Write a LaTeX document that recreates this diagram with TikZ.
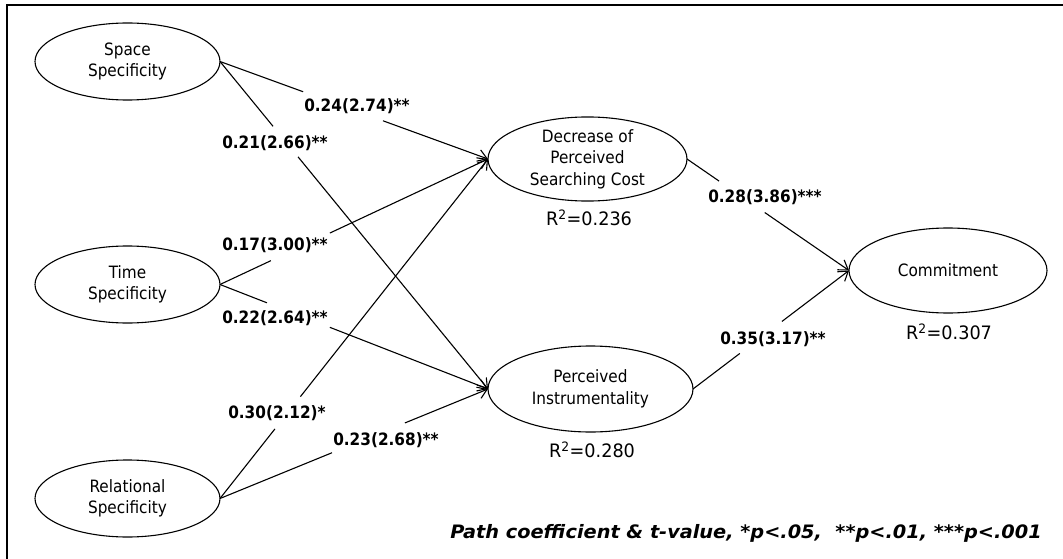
\documentclass[tikz,border=0pt]{standalone}
\usepackage{fontspec}
\setmainfont{DejaVu Sans Condensed}
\usetikzlibrary{shapes.geometric,arrows.meta,calc}
\begin{document}
\begin{tikzpicture}[x=1pt,y=-1pt,
  lat/.style={draw,ellipse,line width=1.1pt,inner sep=0pt,outer sep=0pt,align=center,font=\fontsize{17}{21.5}\selectfont},
  coef/.style={font=\bfseries\fontsize{17}{20}\selectfont,inner sep=0pt},
  rsq/.style={font=\fontsize{18.5}{20}\selectfont,inner sep=0pt},
  conn/.style={line width=1.1pt},
  arr/.style={line width=1.1pt,-{Straight Barb[length=9pt,width=12pt]}},
  frame/.style={line width=1.3pt}]
\useasboundingbox (0,0) rectangle (1063,559);
\draw[frame] (7,559) -- (7,5) -- (1063,5);

\node[lat,minimum width=185pt,minimum height=77pt] (space) at (127.5,61.5) {Space\\Specificity};
\node[lat,minimum width=185pt,minimum height=77pt] (time) at (127.5,284.5) {Time\\Specificity};
\node[lat,minimum width=185pt,minimum height=77pt] (rel) at (127.5,498.5) {Relational\\Specificity};
\node[lat,minimum width=199pt,minimum height=84pt] (dec) at (587.5,159) {Decrease of\\Perceived\\Searching Cost};
\node[lat,minimum width=205pt,minimum height=86pt] (pi) at (590.5,389) {Perceived\\Instrumentality};
\node[lat,minimum width=198pt,minimum height=85pt] (com) at (948,270.5) {Commitment};

\node[rsq] (r1) at (589,218) {\scalebox{1.06}[1]{R\textsuperscript{2}=0.236}};
\node[rsq] (r2) at (592,450) {\scalebox{1.06}[1]{R\textsuperscript{2}=0.280}};
\node[rsq] (r3) at (949,332) {\scalebox{1.06}[1]{R\textsuperscript{2}=0.307}};

% connectors with gaps for labels
\draw[conn] (space.east) -- ($(space.east)!0.31!(dec.west)$);
\draw[arr] ($(space.east)!0.608!(dec.west)$) -- (dec.west);
\draw[conn] (space.east) -- ($(space.east)!0.198!(pi.west)$);
\draw[arr] ($(space.east)!0.291!(pi.west)$) -- (pi.west);
\draw[conn] (time.east) -- ($(time.east)!0.19!(dec.west)$);
\draw[arr] ($(time.east)!0.41!(dec.west)$) -- (dec.west);
\draw[conn] (time.east) -- ($(time.east)!0.175!(pi.west)$);
\draw[arr] ($(time.east)!0.41!(pi.west)$) -- (pi.west);
\draw[conn] (rel.east) -- ($(rel.east)!0.205!(dec.west)$);
\draw[arr] ($(rel.east)!0.30!(dec.west)$) -- (dec.west);
\draw[conn] (rel.east) -- ($(rel.east)!0.418!(pi.west)$);
\draw[arr] ($(rel.east)!0.69!(pi.west)$) -- (pi.west);
\draw[conn] (dec.east) -- ($(dec.east)!0.198!(com.west)$);
\draw[arr] ($(dec.east)!0.48!(com.west)$) -- (com.west);
\draw[conn] (pi.east) -- ($(pi.east)!0.30!(com.west)$);
\draw[arr] ($(pi.east)!0.57!(com.west)$) -- (com.west);

\node[coef] (l24) at (357,106) {0.24(2.74)**};
\node[coef] (l21) at (275,143) {0.21(2.66)**};
\node[coef] (l17) at (275,245) {0.17(3.00)**};
\node[coef] (l22) at (275,318) {0.22(2.64)**};
\node[coef] (l30) at (277,413) {0.30(2.12)*};
\node[coef] (l23) at (386,440) {0.23(2.68)**};
\node[coef] (l28) at (765,197) {0.28(3.86)***};
\node[coef] (l35) at (773,339) {0.35(3.17)**};

\node[coef,font=\bfseries\itshape\fontsize{18.5}{20}\selectfont,anchor=east] (note) at (1042,533) {\scalebox{1.16}[1]{Path coefficient \& t-value, *p<.05,\ \ **p<.01, ***p<.001}};
\end{tikzpicture}
\end{document}
